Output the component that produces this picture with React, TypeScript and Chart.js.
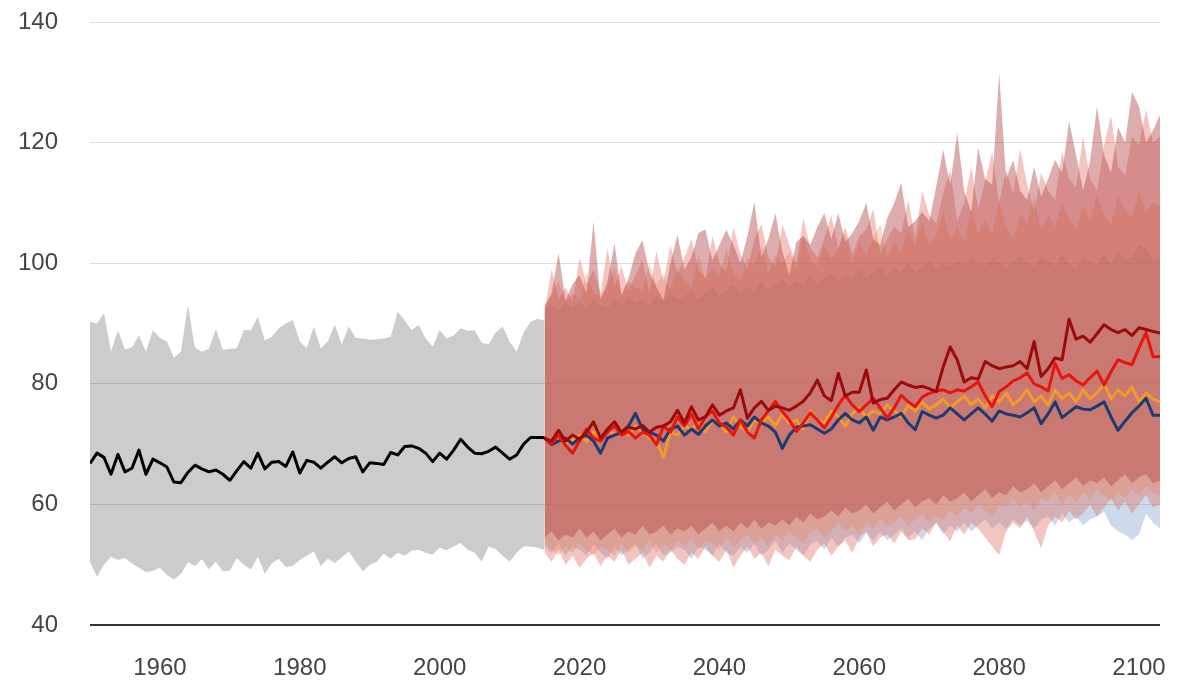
import React, { useEffect, useRef } from "react";
import { Chart, registerables } from "chart.js";

Chart.register(...registerables);

// ---------- DATA ----------
const histYears = [
  1950, 1951, 1952, 1953, 1954, 1955, 1956, 1957, 1958, 1959,
  1960, 1961, 1962, 1963, 1964, 1965, 1966, 1967, 1968, 1969,
  1970, 1971, 1972, 1973, 1974, 1975, 1976, 1977, 1978, 1979,
  1980, 1981, 1982, 1983, 1984, 1985, 1986, 1987, 1988, 1989,
  1990, 1991, 1992, 1993, 1994, 1995, 1996, 1997, 1998, 1999,
  2000, 2001, 2002, 2003, 2004, 2005, 2006, 2007, 2008, 2009,
  2010, 2011, 2012, 2013, 2014, 2015,
];
const histMean = [
  66.8, 68.5, 67.8, 65.0, 68.3, 65.4, 66.0, 69.0, 65.0, 67.5,
  66.9, 66.2, 63.7, 63.6, 65.3, 66.5, 65.9, 65.4, 65.7, 65.0,
  64.0, 65.6, 67.1, 66.0, 68.5, 65.9, 67.0, 67.1, 66.3, 68.7,
  65.2, 67.3, 67.0, 66.0, 67.0, 67.9, 66.9, 67.6, 67.9, 65.4,
  66.9, 66.8, 66.6, 68.6, 68.2, 69.6, 69.7, 69.3, 68.5, 67.1,
  68.5, 67.5, 69.0, 70.8, 69.5, 68.5, 68.4, 68.8, 69.5, 68.5,
  67.5, 68.2, 70.0, 71.1, 71.1, 71.1,
];
const histUpper = [
  90.3, 90.0, 91.7, 85.3, 88.9, 85.7, 86.0, 88.1, 85.3, 88.9,
  87.6, 87.0, 84.3, 85.3, 93.1, 86.0, 85.3, 85.8, 89.1, 85.6,
  85.8, 85.9, 88.9, 88.9, 91.1, 87.2, 87.8, 89.2, 90.0, 90.6,
  87.0, 85.9, 89.5, 85.9, 87.0, 89.8, 86.5, 89.5, 87.6, 87.5,
  87.3, 87.4, 87.5, 87.8, 92.0, 90.5, 88.9, 89.8, 87.5, 86.2,
  88.9, 87.5, 88.0, 89.2, 88.8, 88.9, 86.8, 86.5, 88.5, 89.5,
  87.0, 85.3, 88.5, 90.3, 90.8, 90.5,
];
const histLower = [
  50.5, 48.0, 50.0, 51.3, 50.8, 51.1, 50.2, 49.5, 48.8, 49.0,
  49.5, 48.3, 47.5, 48.5, 50.4, 49.8, 50.9, 49.2, 50.5, 48.9,
  49.0, 51.1, 50.0, 49.2, 51.3, 48.5, 50.2, 51.0, 49.6, 49.8,
  50.8, 51.5, 52.2, 49.8, 51.0, 50.3, 51.2, 52.2, 50.5, 48.9,
  50.0, 50.5, 51.8, 51.0, 52.0, 51.5, 52.3, 52.5, 52.0, 51.7,
  52.8, 52.4, 53.0, 53.6, 52.5, 52.0, 50.5, 53.0, 52.6, 51.5,
  50.5, 52.0, 53.0, 53.0, 52.8, 52.5,
];

const projYears = [
  2015, 2016, 2017, 2018, 2019, 2020, 2021, 2022, 2023, 2024,
  2025, 2026, 2027, 2028, 2029, 2030, 2031, 2032, 2033, 2034,
  2035, 2036, 2037, 2038, 2039, 2040, 2041, 2042, 2043, 2044,
  2045, 2046, 2047, 2048, 2049, 2050, 2051, 2052, 2053, 2054,
  2055, 2056, 2057, 2058, 2059, 2060, 2061, 2062, 2063, 2064,
  2065, 2066, 2067, 2068, 2069, 2070, 2071, 2072, 2073, 2074,
  2075, 2076, 2077, 2078, 2079, 2080, 2081, 2082, 2083, 2084,
  2085, 2086, 2087, 2088, 2089, 2090, 2091, 2092, 2093, 2094,
  2095, 2096, 2097, 2098, 2099, 2100, 2101, 2102, 2103,
];

// scenario means
const ssp126Mean = [
  71.0, 69.9, 70.5, 71.0, 70.0, 71.0, 71.5, 70.5, 68.5, 71.0,
  71.5, 72.0, 73.0, 75.1, 72.5, 72.0, 71.5, 70.5, 72.5, 73.0,
  71.5, 72.5, 71.6, 73.0, 74.0, 73.0, 73.5, 72.5, 74.0, 73.0,
  74.5, 73.5, 73.0, 72.0, 69.3, 71.5, 72.8, 73.0, 73.2, 72.5,
  71.8, 72.5, 74.0, 75.1, 74.0, 73.5, 74.5, 72.3, 74.5, 74.0,
  74.5, 75.1, 73.5, 72.4, 75.4, 74.8, 74.3, 74.8, 76.0, 75.0,
  74.0, 75.0, 76.0, 75.0, 73.8, 75.5, 75.0, 74.8, 74.5, 75.2,
  76.0, 73.4, 75.0, 77.0, 74.4, 75.3, 76.2, 75.8, 75.7, 76.3,
  77.0, 74.5, 72.3, 73.8, 75.2, 76.3, 77.6, 74.8, 74.8,
];
const ssp245Mean = [
  71.0, 70.5, 71.2, 70.0, 70.8, 71.5, 70.5, 72.0, 71.0, 72.5,
  71.5, 72.5, 71.5, 73.0, 72.0, 71.0, 70.5, 67.8, 72.0, 71.5,
  73.0, 72.5, 73.5, 72.0, 74.0, 73.5, 72.0, 74.5, 73.0, 72.0,
  74.0, 73.5, 74.5, 73.0, 75.0, 73.5, 74.0, 72.5, 75.5, 74.0,
  73.5, 75.5, 74.5, 73.0, 75.0, 76.0, 74.5, 75.5, 75.0, 76.5,
  75.5, 74.5, 76.5, 75.5, 77.0, 75.8, 76.5, 77.5, 76.0, 77.0,
  78.0, 76.5, 77.5, 76.0, 78.0, 77.0, 78.5, 76.5, 77.5, 79.0,
  77.0, 78.0, 76.5, 79.0, 77.5, 78.5, 77.0, 79.0, 77.5, 78.5,
  80.0, 77.5, 79.0, 78.0, 79.5, 77.0, 78.5, 77.5, 77.0,
];
const ssp370Mean = [
  71.0, 70.0, 71.5, 69.8, 68.5, 70.5, 72.5, 71.0, 70.5, 72.0,
  73.0, 71.5, 72.1, 71.0, 72.0, 71.5, 69.9, 73.0, 72.0, 74.5,
  73.0, 75.0, 72.5, 74.5, 75.5, 73.5, 72.8, 71.5, 74.0, 72.0,
  71.0, 74.0, 75.5, 77.1, 75.4, 74.0, 72.1, 73.5, 75.2, 74.0,
  72.7, 74.5, 76.5, 78.1, 76.5, 75.4, 76.5, 77.6, 76.0, 74.3,
  76.0, 78.1, 77.0, 76.2, 77.8, 78.4, 78.8, 79.0, 78.5, 79.0,
  78.8, 79.5, 80.3, 78.0, 76.2, 78.7, 79.5, 80.5, 81.0, 81.8,
  80.0, 79.5, 78.8, 83.4, 80.9, 81.5, 80.5, 79.8, 81.0, 82.1,
  79.8, 82.0, 84.0, 83.5, 83.2, 86.0, 88.5, 84.5, 84.5,
];
const ssp585Mean = [
  71.0, 70.5, 72.3, 70.5, 71.5, 70.8, 72.0, 73.7, 71.0, 72.5,
  73.7, 72.0, 72.8, 72.5, 73.1, 72.0, 72.8, 73.0, 73.7, 75.6,
  73.5, 76.2, 74.0, 74.5, 76.5, 74.8, 75.5, 76.0, 79.0, 74.3,
  76.0, 77.1, 75.6, 76.3, 76.0, 75.6, 76.3, 77.1, 78.5, 80.6,
  78.0, 77.2, 81.7, 78.0, 78.6, 78.6, 82.3, 76.8, 77.4, 77.6,
  79.0, 80.3, 79.8, 79.4, 79.6, 79.2, 78.7, 82.8, 86.1, 84.0,
  80.3, 81.0, 80.8, 83.7, 83.0, 82.5, 82.8, 83.0, 83.7, 82.5,
  87.0, 81.2, 82.5, 84.3, 84.0, 90.7, 87.4, 87.9, 86.9, 88.3,
  89.8, 89.0, 88.5, 89.0, 88.0, 89.3, 89.0, 88.7, 88.4,
];

// scenario ranges
const ssp126Upper = [
  92.5, 93.0, 92.0, 93.5, 92.5, 93.5, 92.5, 94.0, 93.0, 92.5,
  94.0, 93.0, 94.5, 93.5, 94.0, 93.0, 94.5, 93.5, 95.0, 94.0,
  94.5, 95.5, 94.0, 95.0, 96.0, 94.5, 95.5, 96.5, 95.0, 96.0,
  95.5, 97.0, 95.5, 96.5, 97.5, 96.0, 97.0, 96.5, 98.0, 96.5,
  97.5, 98.5, 97.0, 98.0, 97.5, 99.0, 97.5, 98.5, 99.5, 98.0,
  99.0, 98.5, 100.0, 98.5, 99.5, 100.5, 99.0, 100.0, 99.5, 100.5,
  99.5, 101.0, 100.0, 99.5, 101.0, 100.0, 99.0, 100.5, 101.5, 100.0,
  99.5, 101.0, 100.5, 99.5, 101.5, 100.0, 99.0, 101.0, 100.5, 99.5,
  101.5, 100.0, 102.0, 100.5, 101.0, 103.0, 102.5, 100.5, 101.0,
];
const ssp126Lower = [
  53.0, 52.0, 53.5, 51.5, 53.0, 52.5, 51.5, 53.5, 52.0, 51.0,
  53.0, 51.5, 52.5, 53.5, 51.0, 52.0, 53.5, 51.5, 52.0, 53.0,
  52.5, 51.0, 53.0, 52.5, 51.5, 53.5, 52.0, 51.5, 53.0, 52.0,
  53.5, 51.5, 52.5, 54.0, 52.0, 53.5, 52.5, 51.5, 53.4, 54.0,
  52.5, 54.5, 53.0, 54.5, 55.0, 53.5, 55.3, 54.0, 55.5, 54.0,
  55.0, 56.0, 54.5, 55.5, 54.0, 56.0, 56.9, 55.0, 56.5, 55.5,
  57.0, 55.5, 56.5, 57.5, 56.0, 57.0, 56.0, 57.5, 56.5, 57.3,
  56.0, 57.5, 58.0, 56.5, 58.5, 57.0, 58.0, 56.5, 57.5, 58.0,
  58.8, 56.5, 55.5, 55.0, 54.1, 55.0, 58.5, 57.0, 56.0,
];
const ssp245Upper = [
  93.0, 94.5, 97.0, 93.5, 95.0, 94.0, 98.5, 95.0, 94.5, 96.0,
  99.5, 95.0, 97.0, 96.0, 95.5, 100.0, 96.5, 98.0, 95.5, 99.5,
  97.0, 96.0, 101.5, 97.5, 99.0, 98.0, 102.5, 98.5, 97.0, 101.0,
  99.5, 103.0, 98.0, 101.5, 100.0, 102.0, 99.0, 104.5, 100.5, 99.5,
  103.0, 100.5, 102.5, 105.0, 100.0, 103.5, 101.5, 104.0, 106.5, 101.0,
  103.5, 102.0, 105.5, 103.0, 107.0, 103.0, 104.5, 108.5, 104.0, 106.0,
  103.5, 109.0, 105.0, 107.5, 104.5, 110.5, 106.0, 104.0, 108.0, 106.5,
  111.0, 105.5, 108.0, 106.0, 110.0, 107.5, 105.5, 109.5, 107.0, 111.5,
  108.0, 106.5, 111.0, 109.0, 107.5, 112.0, 108.5, 110.0, 109.5,
];
const ssp245Lower = [
  53.5, 52.5, 51.5, 53.0, 52.0, 53.5, 52.5, 51.5, 53.0, 52.5,
  51.5, 53.5, 52.0, 53.0, 52.5, 54.0, 52.0, 53.5, 52.5, 54.0,
  53.0, 54.5, 52.5, 54.0, 53.5, 52.5, 54.5, 53.0, 54.0, 55.0,
  53.5, 54.5, 53.0, 55.0, 54.0, 55.5, 54.5, 53.5, 55.5, 56.0,
  54.5, 55.5, 57.0, 55.5, 56.5, 55.0, 57.0, 56.0, 57.5, 56.5,
  57.0, 58.0, 56.5, 57.5, 58.5, 57.0, 58.0, 57.5, 59.0, 58.0,
  59.5, 58.5, 60.0, 59.0, 58.0, 60.0, 59.5, 61.0, 59.5, 60.5,
  59.0, 61.0, 60.5, 62.0, 60.0, 61.5, 60.5, 62.0, 61.0, 62.5,
  61.5, 60.5, 62.0, 61.0, 62.5, 61.5, 63.0, 62.0, 61.5,
];
const ssp370Upper = [
  92.0, 99.0, 94.0, 96.0, 93.5, 101.0, 96.5, 99.0, 95.0, 102.5,
  96.0, 99.5, 95.5, 98.0, 100.5, 95.0, 102.0, 97.0, 103.0, 98.0,
  101.0, 104.0, 99.0, 97.5, 104.5, 100.0, 98.5, 106.0, 101.5, 99.0,
  104.0, 106.5, 101.0, 99.5, 106.5, 103.0, 100.0, 107.5, 102.5, 101.0,
  104.0, 108.0, 102.5, 106.0, 101.5, 104.5, 105.5, 109.0, 101.5, 104.0,
  106.0, 105.0, 110.5, 104.0, 112.0, 108.0, 106.5, 111.5, 115.5, 107.0,
  110.0, 116.0, 109.0, 113.5, 118.5, 110.0, 115.5, 111.5, 119.0, 113.0,
  108.5, 115.0, 112.0, 110.5, 118.5, 114.0, 112.5, 121.0, 114.0, 112.0,
  119.5, 124.5, 116.0, 114.5, 121.0, 119.5, 125.5, 120.0, 121.0,
];
const ssp370Lower = [
  52.0, 50.5, 52.5, 50.0, 51.5, 49.5, 51.0, 52.0, 49.8, 51.5,
  50.5, 52.5, 50.0, 51.0, 52.0, 49.5, 51.5, 50.5, 52.5, 51.0,
  50.0, 52.0, 51.0, 53.0, 51.5, 50.5, 52.5, 49.5, 51.5, 53.0,
  51.0, 52.0, 49.7, 52.5, 51.5, 50.7, 53.0, 51.5, 50.5, 52.5,
  53.5, 51.5, 53.0, 54.0, 52.0, 54.5, 55.5, 53.0, 54.5, 55.0,
  53.5, 55.5, 54.0, 54.2, 56.0, 55.0, 57.0, 55.5, 53.9, 56.5,
  55.0, 57.0, 56.0, 54.5, 53.0, 51.6, 55.5, 57.0, 56.0, 58.0,
  55.5, 52.7, 56.5, 58.0, 57.0, 59.0, 57.5, 58.5, 60.0, 58.0,
  59.5, 61.0, 59.0, 60.5, 58.5, 60.0, 61.5, 59.5, 60.0,
];
const ssp585Upper = [
  92.8, 95.0, 101.7, 93.9, 96.5, 98.0, 95.0, 106.9, 93.9, 97.0,
  103.3, 94.6, 97.5, 101.7, 103.8, 98.5, 96.0, 93.9, 100.0, 104.7,
  99.0, 101.0, 105.0, 105.6, 100.5, 103.0, 105.5, 103.0, 100.0, 104.5,
  110.2, 101.0, 104.0, 108.3, 102.0, 98.0, 103.5, 104.5, 103.0, 106.0,
  108.3, 104.0, 108.3, 103.5, 105.0, 107.0, 110.0, 104.0, 103.0, 107.5,
  110.0, 113.3, 106.0, 107.0, 108.5, 107.0, 112.7, 118.8, 113.0, 121.6,
  112.0, 108.5, 119.1, 114.0, 113.0, 131.5, 114.0, 117.1, 112.0, 110.5,
  116.0, 111.0, 114.0, 117.1, 115.0, 123.5, 118.0, 112.0, 117.0, 126.0,
  118.0, 115.0, 122.6, 120.0, 128.4, 126.0, 120.0, 122.0, 124.6,
];
const ssp585Lower = [
  54.5, 55.5, 54.0, 55.0, 54.5, 56.0, 54.5, 55.5, 54.0, 55.0,
  56.0, 54.5, 55.5, 55.0, 56.5, 55.0, 55.5, 56.5, 55.0, 56.0,
  55.5, 56.5, 55.0, 56.0, 57.0, 55.5, 56.5, 55.5, 57.0, 56.0,
  57.5, 56.0, 57.0, 56.5, 57.5, 56.5, 58.0, 57.0, 58.5, 57.5,
  58.0, 59.0, 58.0, 59.5, 58.5, 59.0, 60.0, 58.5, 59.5, 60.5,
  59.0, 60.0, 61.0, 59.5, 60.5, 61.0, 60.0, 61.5, 60.5, 61.0,
  62.0, 60.5, 61.5, 62.5, 61.0, 62.0, 61.5, 63.0, 62.0, 62.5,
  63.5, 62.0, 63.0, 64.0, 62.5, 63.5, 64.5, 63.0, 64.0, 63.5,
  64.5, 63.0, 64.0, 65.0, 63.5, 64.5, 65.0, 63.5, 64.0,
];

const xTickValues = [1960, 1980, 2000, 2020, 2040, 2060, 2080, 2100];
const yTickValues = [40, 60, 80, 100, 120, 140];

// ---------- CHART ----------
const pts = (years: number[], vals: number[]) =>
  vals.map((v, i) => ({ x: years[i], y: v }));

const FONT = "'Liberation Sans', Arial, Helvetica, sans-serif";
const NONE = "rgba(0,0,0,0)";

function bandPair(
  years: number[],
  lower: number[],
  upper: number[],
  color: string,
  order: number
) {
  return [
    {
      data: pts(years, lower),
      borderColor: NONE,
      backgroundColor: NONE,
      borderWidth: 0,
      pointRadius: 0,
      fill: false,
      order,
    },
    {
      data: pts(years, upper),
      borderColor: NONE,
      backgroundColor: color,
      borderWidth: 0,
      pointRadius: 0,
      fill: "-1",
      order,
    },
  ];
}

function lineSet(years: number[], vals: number[], color: string, order: number) {
  return {
    data: pts(years, vals),
    borderColor: color,
    backgroundColor: color,
    borderWidth: 3,
    pointRadius: 0,
    fill: false,
    tension: 0,
    borderJoinStyle: "round" as const,
    order,
  };
}

const zeroPad = (scale: any) => {
  scale.paddingTop = 0;
  scale.paddingBottom = 0;
  scale.paddingLeft = 0;
  scale.paddingRight = 0;
};

export default function App() {
  const canvasRef = useRef<HTMLCanvasElement | null>(null);

  useEffect(() => {
    if (!canvasRef.current) return;
    const chart = new Chart(canvasRef.current, {
      type: "line",
      data: {
        datasets: [
          ...bandPair(histYears, histLower, histUpper, "rgba(0,0,0,0.2)", 20),
          ...bandPair(projYears, ssp126Lower, ssp126Upper, "rgba(110,150,200,0.35)", 19),
          ...bandPair(projYears, ssp245Lower, ssp245Upper, "rgba(240,150,90,0.35)", 18),
          ...bandPair(projYears, ssp370Lower, ssp370Upper, "rgba(225,110,100,0.4)", 17),
          ...bandPair(projYears, ssp585Lower, ssp585Upper, "rgba(180,70,70,0.45)", 16),
          lineSet(projYears, ssp245Mean, "#f39a2c", 5),
          lineSet(projYears, ssp126Mean, "#1b3c72", 4),
          lineSet(projYears, ssp370Mean, "#e8150c", 3),
          lineSet(projYears, ssp585Mean, "#9c0b0b", 2),
          lineSet(histYears, histMean, "#000000", 1),
        ] as any,
      },
      options: {
        animation: false,
        responsive: true,
        maintainAspectRatio: false,
        layout: { padding: { left: 0, right: 25, top: 22, bottom: 0 } },
        plugins: {
          legend: { display: false },
          tooltip: { enabled: false },
        },
        elements: { line: { tension: 0 } },
        scales: {
          x: {
            type: "linear",
            min: 1950,
            max: 2103,
            afterBuildTicks: (scale: any) => {
              scale.ticks = xTickValues.map((v) => ({ value: v }));
            },
            afterFit: (scale: any) => {
              scale.height = 60;
              zeroPad(scale);
            },
            grid: { display: false, drawTicks: false },
            border: { display: false },
            ticks: {
              padding: 29,
              color: "#444",
              font: { family: FONT, size: 24 },
              callback: (v: any) => String(v),
            },
          },
          y: {
            type: "linear",
            min: 40,
            max: 140,
            afterBuildTicks: (scale: any) => {
              scale.ticks = yTickValues.map((v) => ({ value: v }));
            },
            afterFit: (scale: any) => {
              scale.width = 90;
              zeroPad(scale);
            },
            grid: {
              drawTicks: false,
              color: (ctx: any) => (ctx.tick && ctx.tick.value === 40 ? "#333" : "#dedede"),
              lineWidth: (ctx: any) => (ctx.tick && ctx.tick.value === 40 ? 2 : 1),
            },
            border: { display: false },
            ticks: {
              padding: 32,
              color: "#444",
              font: { family: FONT, size: 24 },
              callback: (v: any) => String(v),
            },
          },
        },
      },
    });
    return () => chart.destroy();
  }, []);

  return (
    <div style={{ position: "absolute", left: 0, top: 0, width: 1185, height: 685, background: "#fff" }}>
      <canvas ref={canvasRef} />
    </div>
  );
}
